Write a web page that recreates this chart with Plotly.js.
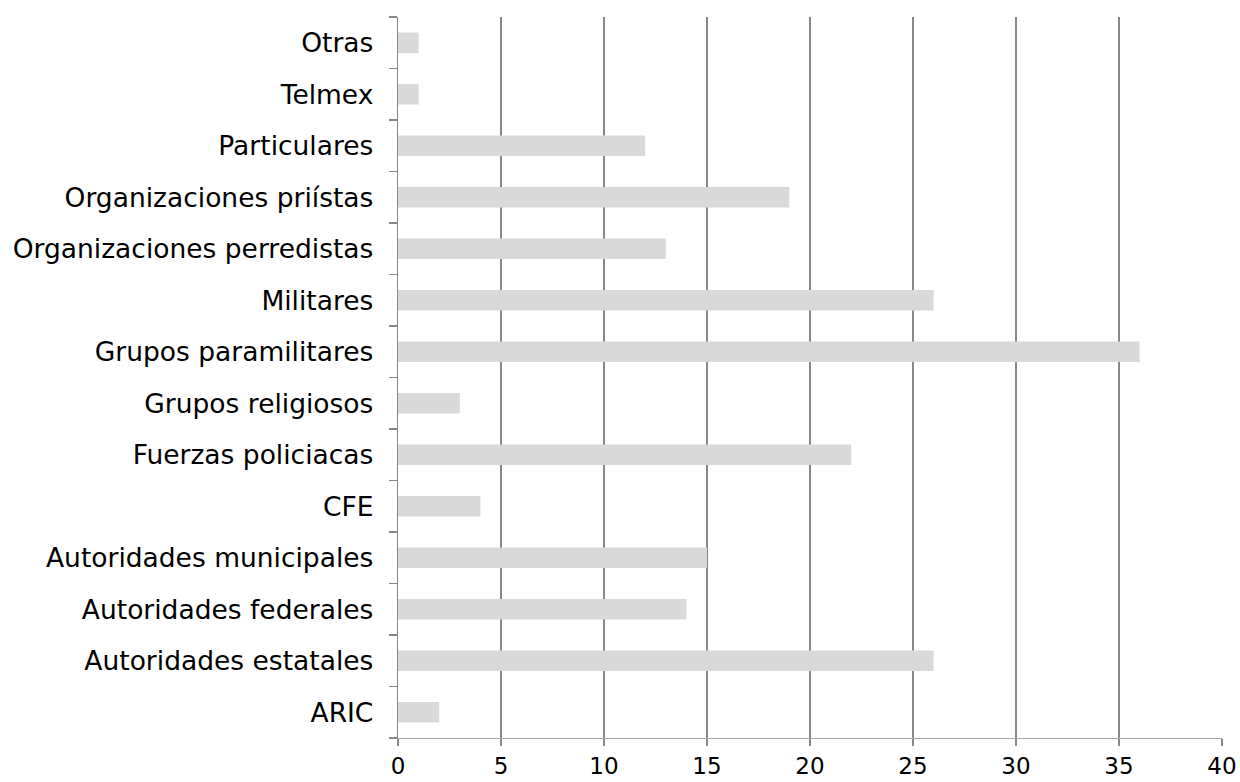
<!DOCTYPE html>
<html>
<head>
<meta charset="utf-8">
<script src="https://cdn.plot.ly/plotly-3.0.1.min.js"></script>
<style>html,body{margin:0;padding:0;background:#fff;}#chart{width:1240px;height:782px;}</style>
</head>
<body>
<div id="chart"></div>
<script>
const categories = ["ARIC","Autoridades estatales","Autoridades federales","Autoridades municipales","CFE","Fuerzas policiacas","Grupos religiosos","Grupos paramilitares","Militares","Organizaciones perredistas","Organizaciones priístas","Particulares","Telmex","Otras"];
const values = [2,26,14,15,4,22,3,36,26,13,19,12,1,1];
const xTicks = [0,5,10,15,20,25,30,35,40];

const font = "DejaVu Sans, Verdana, sans-serif";
Plotly.newPlot("chart", [{
  type: "bar",
  orientation: "h",
  y: categories,
  x: values,
  marker: {color: "#d9d9d9"},
  hoverinfo: "none"
}], {
  width: 1240, height: 782,
  margin: {l: 398, r: 18, t: 17, b: 44},
  paper_bgcolor: "#fff", plot_bgcolor: "#fff",
  bargap: 0.6,
  showlegend: false,
  font: {family: font, size: 26.5, color: "#000"},
  xaxis: {
    range: [0, 40], tickvals: xTicks, ticktext: xTicks.map(String),
    showgrid: true, gridcolor: "#878787", gridwidth: 1.3,
    showline: true, linecolor: "#a6a6a6", linewidth: 1.3,
    ticks: "outside", ticklen: 7, tickcolor: "#878787", tickwidth: 1.3,
    zeroline: false, fixedrange: true,
    ticklabelstandoff: 0,
    tickfont: {family: font, size: 23, color: "#000"}
  },
  yaxis: {
    type: "category", categoryorder: "array", categoryarray: categories,
    showgrid: false, showline: true, linecolor: "#878787", linewidth: 1.3,
    ticks: "outside", ticklen: 8, tickcolor: "#878787", tickwidth: 1.3,
    tickson: "boundaries", zeroline: false, fixedrange: true,
    ticklabelstandoff: 18,
    tickfont: {family: font, size: 26.5, color: "#000"}
  }
}, {staticPlot: true});
</script>
</body>
</html>
